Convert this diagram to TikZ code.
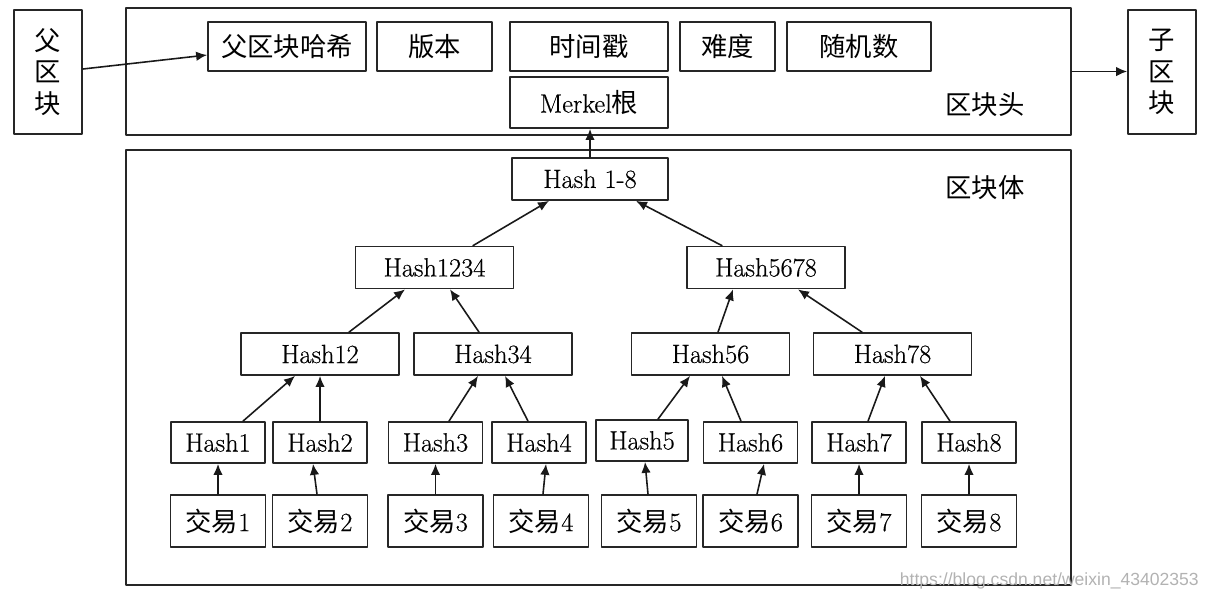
\documentclass[tikz,border=0pt]{standalone}
\usepackage{fontspec}
\setmainfont{Latin Modern Roman}[FakeBold=0.5]
\newfontfamily\cjk{Noto Sans CJK SC}
\newfontfamily\wmfont{Liberation Sans}
\usetikzlibrary{arrows.meta,calc}

\begin{document}
\begin{tikzpicture}[x=0.02cm, y=-0.02cm, line cap=round, line join=round,
    box/.style={draw=black!85, line width=1pt, inner sep=0pt, font=\fontsize{15}{18}\selectfont},
    cbox/.style={box, font=\fontsize{15}{18}\selectfont\cjk},
    field/.style={cbox, minimum height=0.98cm},
    mid/.style={box, minimum width=3.16cm, minimum height=0.84cm},
    leaf/.style={box, minimum width=1.88cm, minimum height=0.82cm},
    tx/.style={box, minimum width=1.9cm, minimum height=1.04cm},
    arr/.style={-{Latex[length=2.2mm,width=1.9mm]}, line width=0.9pt, black!90}]
    \useasboundingbox (0,0) rectangle (1210,600);

    % 外框：区块头与区块体
    \node[box, minimum width=18.9cm, minimum height=2.54cm] (hdr) at (598.5,71.5) {};
    \node[box, minimum width=18.9cm, minimum height=8.7cm] (body) at (598.5,367.5) {};
    \node[font=\fontsize{15}{18}\selectfont\cjk] (hdrlbl) at (985,105) {区块头};
    \node[font=\fontsize{15}{18}\selectfont\cjk] (bodylbl) at (985,188) {区块体};

    % 父区块与子区块
    \node[cbox, minimum width=1.36cm, minimum height=2.48cm, align=center] (parent) at (48,72) {父\\区\\块};
    \node[cbox, minimum width=1.36cm, minimum height=2.48cm, align=center] (child) at (1162,72) {子\\区\\块};

    % 区块头字段
    \node[field, minimum width=3.16cm] (phash) at (287,46.5) {父区块哈希};
    \node[field, minimum width=2.3cm] (ver) at (434.5,46.5) {版本};
    \node[field, minimum width=3.16cm] (ts) at (589,46.5) {时间戳};
    \node[field, minimum width=1.9cm] (diff) at (727.5,46.5) {难度};
    \node[field, minimum width=2.88cm] (nonce) at (859,46.5) {随机数};
    \node[box, minimum width=3.16cm, minimum height=1.02cm] (merkle) at (589,102.5) {Merkel{\cjk 根}};

    % Merkle 树
    \node[box, minimum width=3.12cm, minimum height=0.84cm] (root) at (590,179) {Hash 1-8};
    \node[mid] (h1234) at (434.5,267.5) {Hash1234};
    \node[mid] (h5678) at (766,267.5) {Hash5678};
    \node[mid] (h12) at (320,354) {Hash12};
    \node[mid] (h34) at (493,354) {Hash34};
    \node[mid] (h56) at (710.5,354) {Hash56};
    \node[mid] (h78) at (892.5,354) {Hash78};

    \node[leaf] (h1) at (218,442.5) {Hash1};
    \node[leaf] (h2) at (320,442.5) {Hash2};
    \node[leaf] (h3) at (435.5,442.5) {Hash3};
    \node[leaf] (h4) at (539,442.5) {Hash4};
    \node[leaf, minimum width=1.84cm] (h5) at (642,440.5) {Hash5};
    \node[leaf] (h6) at (750.5,442.5) {Hash6};
    \node[leaf] (h7) at (859,442.5) {Hash7};
    \node[leaf] (h8) at (969,442.5) {Hash8};

    % 交易
    \node[tx] (t1) at (218,521) {{\cjk 交易}1};
    \node[tx] (t2) at (320,521) {{\cjk 交易}2};
    \node[tx] (t3) at (435.5,521) {{\cjk 交易}3};
    \node[tx] (t4) at (541,521) {{\cjk 交易}4};
    \node[tx] (t5) at (649,521) {{\cjk 交易}5};
    \node[tx] (t6) at (750.5,521) {{\cjk 交易}6};
    \node[tx] (t7) at (859,521) {{\cjk 交易}7};
    \node[tx] (t8) at (969,521) {{\cjk 交易}8};

    % 箭头
    \draw[arr] ($(parent.east)+(0,-3)$) -- ($(phash.west)+(0,8.5)$);
    \draw[arr] (hdr.east) -- (hdr.east -| child.west);
    \draw[arr] (root.north) -- (root.north |- merkle.south);

    \draw[arr] ($(h1234.north)+(38.5,0)$) -- ($(root.south)+(-41,0)$);
    \draw[arr] ($(h5678.north)+(-44,0)$) -- ($(root.south)+(46,0)$);

    \draw[arr] ($(h12.north)+(29,0)$) -- ($(h1234.south)+(-29.5,0)$);
    \draw[arr] ($(h34.north)+(-14,0)$) -- ($(h1234.south)+(15.5,0)$);
    \draw[arr] ($(h56.north)+(7.5,0)$) -- ($(h5678.south)+(-33,0)$);
    \draw[arr] ($(h78.north)+(-30.5,0)$) -- ($(h5678.south)+(32,0)$);

    \draw[arr] ($(h1.north)+(25,0)$) -- ($(h12.south)+(-25,0)$);
    \draw[arr] (h2.north) -- (h12.south);
    \draw[arr] ($(h3.north)+(13.5,0)$) -- ($(h34.south)+(-15,0)$);
    \draw[arr] ($(h4.north)+(-11,0)$) -- ($(h34.south)+(12,0)$);
    \draw[arr] ($(h5.north)+(16,0)$) -- ($(h56.south)+(-20.5,0)$);
    \draw[arr] ($(h6.north)+(-9.5,0)$) -- ($(h56.south)+(11.5,0)$);
    \draw[arr] ($(h7.north)+(9,0)$) -- ($(h78.south)+(-7.5,0)$);
    \draw[arr] ($(h8.north)+(-19,0)$) -- ($(h78.south)+(27.5,0)$);

    \draw[arr] (t1.north) -- (h1.south);
    \draw[arr] ($(t2.north)+(-3,0)$) -- ($(h2.south)+(-7,0)$);
    \draw[arr] (t3.north) -- (h3.south);
    \draw[arr] ($(t4.north)+(2,0)$) -- ($(h4.south)+(7,0)$);
    \draw[arr] ($(t5.north)+(-1,0)$) -- ($(h5.south)+(3,0)$);
    \draw[arr] ($(t6.north)+(6.5,0)$) -- ($(h6.south)+(13.5,0)$);
    \draw[arr] (t7.north) -- (h7.south);
    \draw[arr] (t8.north) -- (h8.south);

    % 水印
    \node[text=black!30, font=\wmfont\fontsize{10}{12}\selectfont, anchor=east] (wm) at (1205,581) {https://blog.csdn.net/weixin\_43402353};
\end{tikzpicture}
\end{document}
